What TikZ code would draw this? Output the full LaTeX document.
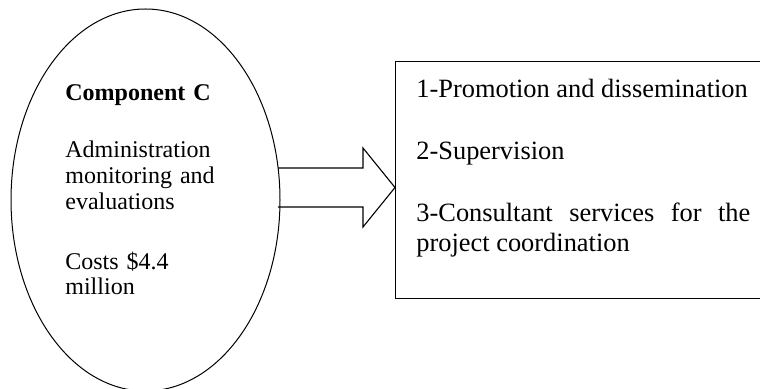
\documentclass[tikz,border=0pt]{standalone}
\usepackage{fontspec}
\setmainfont{Liberation Serif}
\usetikzlibrary{shapes, positioning}

\begin{document}
\begin{tikzpicture}[
      x=0.5pt, y=-0.5pt,
      oval/.style={ellipse, draw, line width=0.5pt, minimum width=134.5pt, minimum height=191pt, inner sep=0pt},
      ovaltext/.style={text width=80pt, align=left, inner sep=0pt, font=\fontsize{12}{12.9}\selectfont},
      tasklist/.style={rectangle, draw, line width=0.7pt, minimum width=200pt, minimum height=118.5pt, inner sep=0pt},
      tasktext/.style={text width=167pt, align=justify, inner sep=0pt, font=\fontsize{13.2}{15}\selectfont},
      blockarrow/.style={line width=0.55pt, line join=miter}
    ]
      \useasboundingbox (0,0) rectangle (760,389);
      \clip (0,0) rectangle (760,389);

      \node (compC) [oval] at (145.5,200) {};
      \node (compText) [ovaltext, anchor=base west] at (65,101) {\textbf{Component C}\\[15.5pt]
        Administration\\ monitoring and\\ evaluations\\[17pt] Costs \$4.4\\ million};

      \node (tasks) [tasklist, anchor=north west] at (395,61) {};
      \node (taskText) [tasktext, anchor=base west] at (416,98) {1-Promotion and dissemination\\[16pt]
        2-Supervision\\[16pt] 3-Consultant services for the project coordination};

      \coordinate (arrTip) at (395,187.5);
      \draw [blockarrow] (278,168) -- (363,168) -- (363,148) -- (arrTip) -- (363,227) -- (363,207) -- (278,207);
    \end{tikzpicture}
\end{document}
